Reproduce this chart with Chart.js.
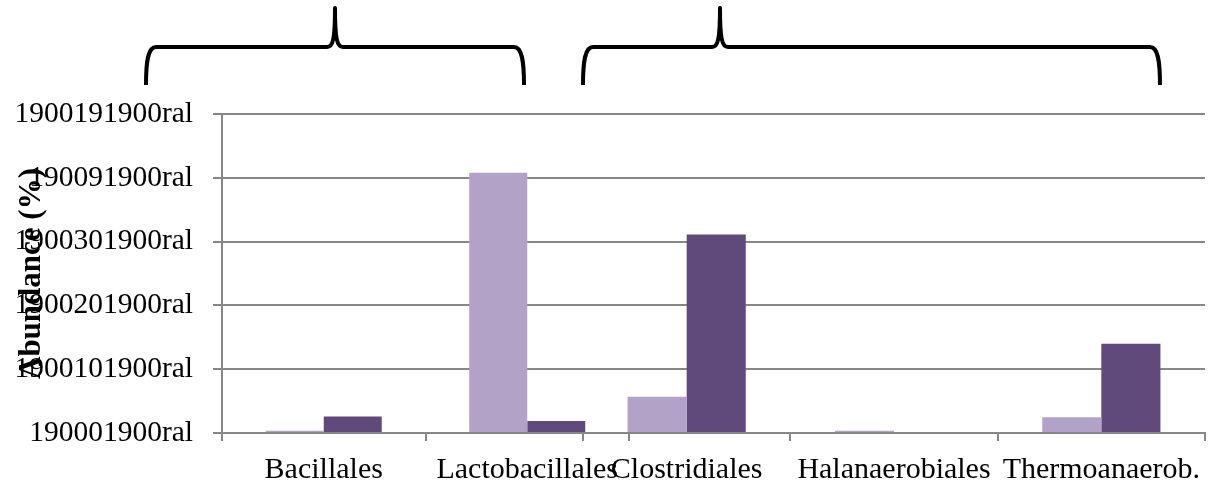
<!DOCTYPE html>
<html>
<head>
<meta charset="utf-8">
<title>Abundance by order</title>
<script src="https://cdn.jsdelivr.net/npm/chart.js@4/dist/chart.umd.min.js"></script>
<style>
  html, body { margin: 0; padding: 0; background: #ffffff; }
  #wrap { position: relative; width: 1213px; height: 488px; overflow: hidden; }
  canvas { position: absolute; top: 0; }
  #left { left: 0; }
  #right { left: 570px; }
</style>
</head>
<body>
<div id="wrap">
  <canvas id="left" width="640" height="488"></canvas>
  <canvas id="right" width="643" height="488"></canvas>
</div>
<script>
// Orders shown along the x axis; the first two form the left panel
const categories = ['Bacillales', 'Lactobacillales', 'Clostridiales', 'Halanaerobiales', 'Thermoanaerob.'];
const leftPanelCount = 2;

// Relative abundance (%) per order
const seriesLight = [0.36, 40.8, 5.7, 0.36, 2.45];
const seriesDark  = [2.6, 1.9, 31.1, 0, 14.0];

// Axis range and the tick captions printed beside it (bottom to top)
const yMin = 0;
const yMax = 50;
const yStep = 10;
const yTickLabels = ['190001900ral', '1900101900ral', '1900201900ral', '1900301900ral', '190091900ral', '1900191900ral'];
const yTitle = 'Abundance (%)';

const LIGHT = '#b3a2c7';
const DARK = '#604a7b';
const GRID = '#878787';
const FONT = "'Liberation Serif', 'Times New Roman', serif";

Chart.defaults.font.family = FONT;
Chart.defaults.color = '#000000';

// Curly brace drawn above a group of bars
const bracePlugin = {
  id: 'brace',
  afterDraw(chart, args, opts) {
    if (!opts || opts.x1 === undefined) return;
    const ctx = chart.ctx;
    const { x1, xm, x2 } = opts;
    const yTop = 8, yMid = 47, yBot = 85;
    ctx.save();
    ctx.strokeStyle = '#000000';
    ctx.lineWidth = 4;
    ctx.lineJoin = 'round';
    ctx.beginPath();
    ctx.moveTo(x1, yBot);
    ctx.bezierCurveTo(x1, yMid + 14, x1 + 2, yMid, x1 + 10, yMid);
    ctx.lineTo(xm - 8, yMid);
    ctx.bezierCurveTo(xm - 2, yMid, xm, yMid - 8, xm, yTop);
    ctx.bezierCurveTo(xm, yMid - 8, xm + 2, yMid, xm + 8, yMid);
    ctx.lineTo(x2 - 10, yMid);
    ctx.bezierCurveTo(x2 - 2, yMid, x2, yMid + 14, x2, yBot);
    ctx.stroke();
    ctx.restore();
  }
};
Chart.register(bracePlugin);

function makeOptions(showYAxis, padding, brace) {
  return {
    responsive: false,
    animation: false,
    devicePixelRatio: 1,
    layout: { padding: padding },
    plugins: {
      legend: { display: false },
      tooltip: { enabled: false },
      brace: brace
    },
    datasets: {
      bar: { categoryPercentage: 0.57, barPercentage: 1.0 }
    },
    scales: {
      x: {
        grid: {
          display: true,
          drawOnChartArea: false,
          drawTicks: true,
          tickLength: 8,
          color: GRID,
          lineWidth: 2,
          offset: true
        },
        border: { display: true, color: GRID, width: 2 },
        ticks: {
          font: { size: 30 },
          color: '#000000',
          padding: 11,
          maxRotation: 0,
          autoSkip: false
        },
        afterFit(scale) { scale.height = 488 - 433; }
      },
      y: {
        min: yMin,
        max: yMax,
        grid: {
          display: true,
          drawOnChartArea: true,
          drawTicks: showYAxis,
          tickLength: 9,
          color: GRID,
          lineWidth: 2
        },
        border: { display: showYAxis, color: GRID, width: 2 },
        ticks: {
          display: showYAxis,
          stepSize: yStep,
          font: { size: 29.5 },
          color: '#000000',
          padding: 20,
          callback(value) {
            const i = Math.round((value - yMin) / yStep);
            return yTickLabels[i] !== undefined ? yTickLabels[i] : '';
          }
        },
        title: {
          display: showYAxis,
          text: yTitle,
          font: { size: 31, weight: 'bold' },
          color: '#000000',
          padding: { top: 13, bottom: 0 }
        },
        afterFit(scale) { scale.width = showYAxis ? 222 : 0; }
      }
    }
  };
}

function makeData(from, to) {
  return {
    labels: categories.slice(from, to),
    datasets: [
      { label: 'Series 1', data: seriesLight.slice(from, to), backgroundColor: LIGHT, borderWidth: 0 },
      { label: 'Series 2', data: seriesDark.slice(from, to), backgroundColor: DARK, borderWidth: 0 }
    ]
  };
}

// Left panel: Bacillales and Lactobacillales, carries the y axis
new Chart(document.getElementById('left'), {
  type: 'bar',
  data: makeData(0, leftPanelCount),
  options: makeOptions(true, { top: 114, left: 0, right: 11, bottom: 0 },
    { x1: 146, xm: 335, x2: 524 })
});

// Right panel: remaining orders sharing the same value range
new Chart(document.getElementById('right'), {
  type: 'bar',
  data: makeData(leftPanelCount, categories.length),
  options: makeOptions(false, { top: 114, left: 13, right: 8, bottom: 0 },
    { x1: 13, xm: 150, x2: 590 })
});
</script>
</body>
</html>
